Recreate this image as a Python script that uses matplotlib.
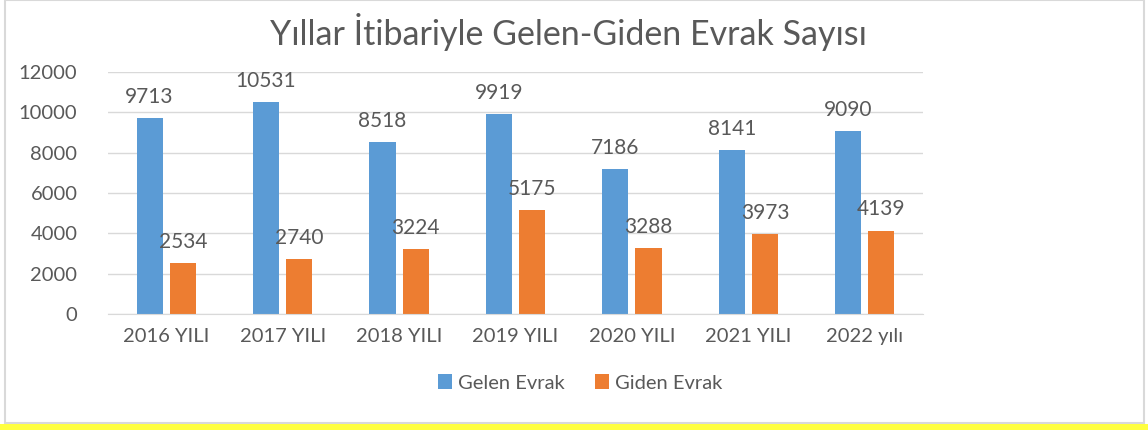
import numpy as np
import matplotlib.pyplot as plt
from matplotlib.patches import Rectangle

# data
years = ["2016 YILI", "2017 YILI", "2018 YILI", "2019 YILI", "2020 YILI", "2021 YILI", "2022 yılı"]
gelen = [9713, 10531, 8518, 9919, 7186, 8141, 9090]
giden = [2534, 2740, 3224, 5175, 3288, 3973, 4139]
yticks = [0, 2000, 4000, 6000, 8000, 10000, 12000]

plt.rcParams['font.family'] = ['Lato', 'DejaVu Sans']
grey = "#595959"
blue = "#5B9BD5"
orange = "#ED7D31"

fig = plt.figure(figsize=(11.48, 4.3), dpi=100)

# outer chart border and the yellow strip at the bottom
fig.patches.append(Rectangle((5 / 1148, 7 / 430), 1139 / 1148, 423 / 430, transform=fig.transFigure,
                             fill=False, edgecolor="#D9D9D9", linewidth=1.5))
fig.patches.append(Rectangle((0, 0), 1, 6 / 430, transform=fig.transFigure,
                             facecolor="#FFFF40", edgecolor="none"))

ax = fig.add_axes([108 / 1148, (430 - 314) / 430, (923 - 108) / 1148, (314 - 72) / 430])

x = np.arange(len(years))
w = 0.225
gap = 0.06
b1 = ax.bar(x - (w + gap) / 2, gelen, w, color=blue, label="Gelen Evrak")
b2 = ax.bar(x + (w + gap) / 2, giden, w, color=orange, label="Giden Evrak")

for bars, vals in [(b1, gelen), (b2, giden)]:
    for r, v in zip(bars, vals):
        ax.annotate(str(v), (r.get_x() + r.get_width() / 2, v), xytext=(0, 8),
                    textcoords="offset points", ha="center", va="bottom",
                    fontsize=15, color=grey)

ax.set_ylim(0, 12000)
ax.set_xlim(-0.5, len(years) - 0.5)
ax.set_yticks(yticks)
ax.set_xticks(x)
ax.set_xticklabels(years)
ax.tick_params(length=0, labelsize=14.5, colors=grey, pad=10)
ax.tick_params(axis="y", pad=22)
ax.yaxis.grid(True, color="#D9D9D9", linewidth=1)
ax.set_axisbelow(True)
for s in ["top", "right", "left"]:
    ax.spines[s].set_visible(False)
ax.spines["bottom"].set_color("#D9D9D9")

fig.text(568 / 1148, 1 - 32 / 430, "Yıllar İtibariyle Gelen-Giden Evrak Sayısı",
         ha="center", va="center", fontsize=24.5, color=grey)

leg = fig.legend(loc="center", bbox_to_anchor=(580 / 1148, 1 - 383 / 430), ncol=2,
                 frameon=False, fontsize=14.5, handlelength=0.7, handleheight=0.7,
                 handletextpad=0.3, columnspacing=1.5)
for t in leg.get_texts():
    t.set_color(grey)

fig.savefig("out.png", dpi=100)
